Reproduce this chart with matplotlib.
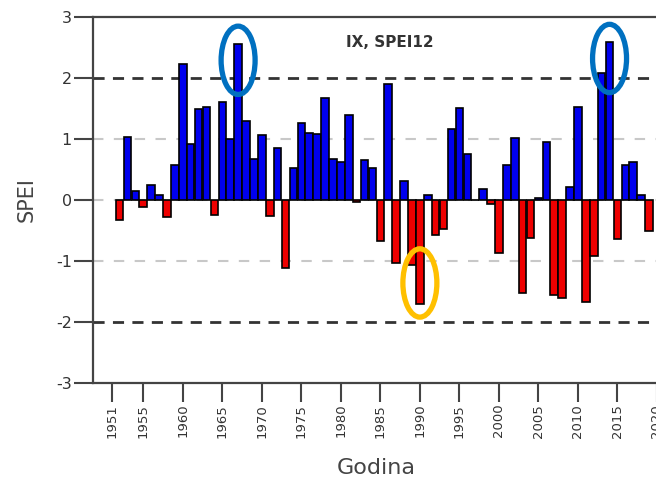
import numpy as np
import matplotlib
matplotlib.use('Agg')
from matplotlib import pyplot as plt
from matplotlib.patches import Ellipse

# SPEI12 for September, one value per year
years = list(range(1952, 2020))
spei = [-0.33, 1.04, 0.14, -0.11, 0.25, 0.09, -0.28, 0.57, 2.23, 0.91,
        1.50, 1.52, -0.24, 1.60, 1.00, 2.56, 1.29, 0.68, 1.06, -0.26,
        0.85, -1.12, 0.53, 1.27, 1.10, 1.09, 1.67, 0.68, 0.63, 1.40,
        -0.04, 0.65, 0.53, -0.67, 1.90, -1.04, 0.31, -1.07, -1.71, 0.08,
        -0.58, -0.47, 1.17, 1.51, 0.76, 0.00, 0.18, -0.07, -0.87, 0.57,
        1.02, -1.52, -0.62, 0.04, 0.95, -1.56, -1.61, 0.22, 1.53, -1.67,
        -0.91, 2.08, 2.59, -0.64, 0.57, 0.63, 0.09, -0.51]
tick_years = [1951, 1955, 1960, 1965, 1970, 1975, 1980, 1985, 1990, 1995,
              2000, 2005, 2010, 2015, 2020]
highlight_wet = [1967, 2014]
highlight_dry = [1990]

grey = '#444444'

fig = plt.figure(figsize=(6.56, 4.79), dpi=100)
ax = fig.add_axes([0.1413, 0.2004, 0.865, 0.7641])

colors = ['#0000ee' if v >= 0 else '#ee0000' for v in spei]
ax.bar(years, spei, width=0.96, color=colors, edgecolor='black', linewidth=1.2, zorder=3)

# reference lines
for lvl in [-1, 0, 1]:
    ax.axhline(lvl, color='#c8c8c8', lw=1.5, ls=(0, (5, 5)), zorder=1)
for lvl in [-2, 2]:
    ax.axhline(lvl, color='#333333', lw=2.0, ls=(0, (4, 3)), zorder=1)

ax.set_xlim(1948.6, 2020.4)
ax.set_ylim(-3, 3)
ax.set_xticks(tick_years)
ax.set_xticklabels([str(y) for y in tick_years], rotation=90, fontsize=9.5, color='#333333')
ax.set_yticks(range(-3, 4))
ax.set_yticklabels([str(v) for v in range(-3, 4)], fontsize=11.5, color='#333333')
ax.tick_params(axis='both', direction='out', length=14, width=1.5, color=grey, pad=1)

for s in ['left', 'top', 'bottom']:
    ax.spines[s].set_color(grey)
    ax.spines[s].set_linewidth(1.6)
ax.spines['right'].set_visible(False)

ax.set_xlabel('Godina', fontsize=16, color=grey, va='center')
ax.xaxis.set_label_coords(0.5, -0.232)
ax.set_ylabel('SPEI', fontsize=15, color=grey, va='center')
ax.yaxis.set_label_coords(-0.116, 0.5)

ax.text(0.524, 0.929, 'IX, SPEI12', transform=ax.transAxes, ha='center', va='center',
        fontsize=11, fontweight='bold', color='#333333')

# circles round the extreme years
for yr in highlight_wet + highlight_dry:
    v = spei[years.index(yr)]
    c = '#0070c0' if v > 0 else '#ffc000'
    yc = v - 0.27 if v > 0 else v + 0.35
    ax.add_patch(Ellipse((yr, yc), 4.3, 1.12, fill=False, edgecolor=c, lw=3.8, zorder=5))

fig.savefig('out.png', dpi=100)
